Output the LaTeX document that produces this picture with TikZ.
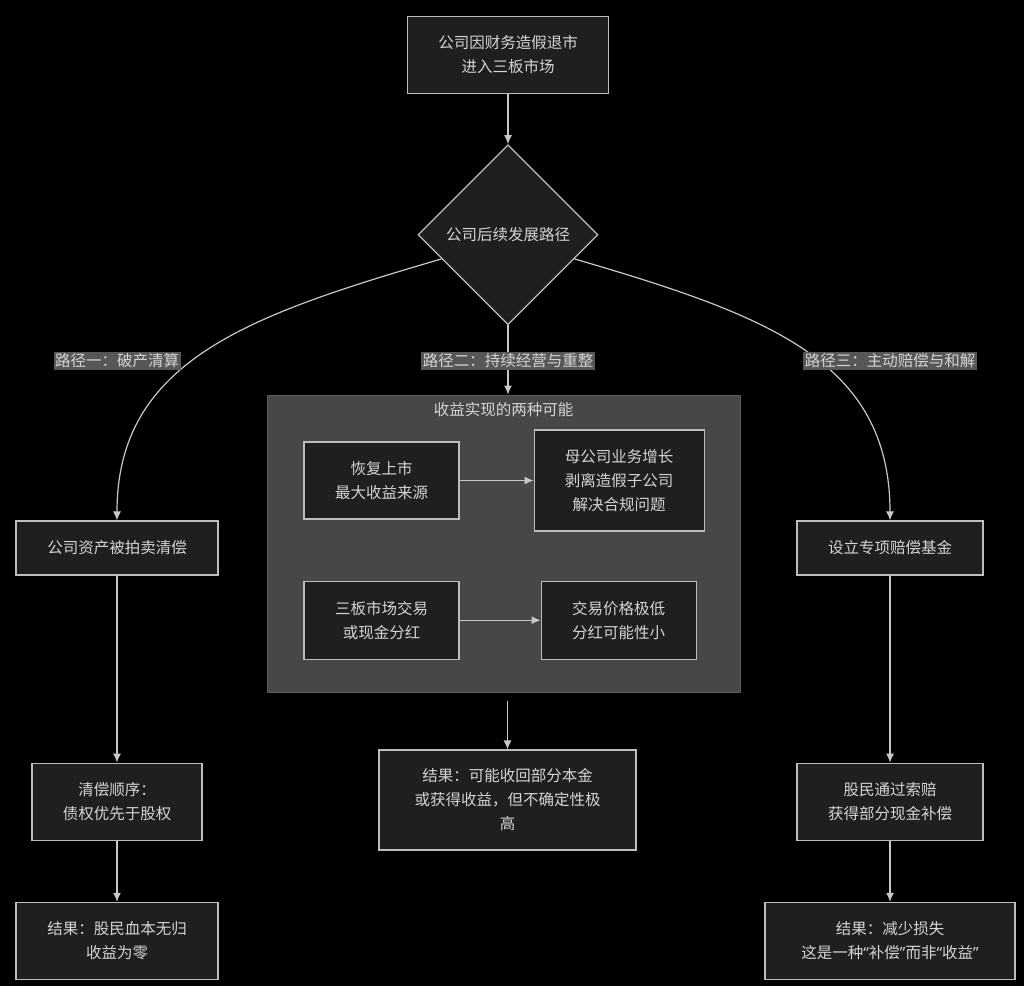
\documentclass[tikz,border=0pt]{standalone}
\usepackage{fontspec}
\setmainfont{Noto Sans CJK SC}
\newfontfamily\quotefont{Noto Sans}
\usepackage{xcolor}
\usepackage{tikz}
\usetikzlibrary{shapes,arrows,arrows.meta,positioning}
\definecolor{nodefill}{HTML}{1F1F1F}
\definecolor{nodeline}{HTML}{BDBDBD}
\definecolor{nodetext}{HTML}{D4D4D4}
\definecolor{edgeline}{HTML}{C8C8C8}
\definecolor{groupfill}{HTML}{474747}
\definecolor{groupline}{HTML}{5C5C5C}
\definecolor{labelfill}{HTML}{575757}
\newcommand{\qmark}[1]{{\quotefont #1}}
\tikzset{>={Latex[length=9pt,width=8pt]}}
\tikzset{main node/.style={rectangle,fill=nodefill,draw=nodeline,line width=1.2pt,text=nodetext,align=center,inner sep=0pt,font=\fontsize{15.5}{24}\selectfont},
         choice node/.style={main node,diamond,minimum width=180pt,minimum height=180pt},
         path label/.style={fill=labelfill,text=nodetext,inner sep=1.5pt,font=\fontsize{15.5}{20}\selectfont},
         group box/.style={rectangle,fill=groupfill,draw=groupline,line width=1pt,inner sep=0pt},
            }

\begin{document}
\begin{tikzpicture}[x=1pt,y=-1pt]

    \fill[black] (0,0) rectangle (1024,986);
    \useasboundingbox (0,0) rectangle (1024,986);

    \node[main node,minimum width=201pt,minimum height=77pt] (1) at (508,55) {公司因财务造假退市\\进入三板市场};
    \node[choice node] (2) [below = 50pt of 1] {公司后续发展路径};

    % path one
    \node[main node,minimum width=202pt,minimum height=54pt] (3) at (117,548) {公司资产被拍卖清偿};
    \node[main node,minimum width=170pt,minimum height=77pt] (4) [below = 187pt of 3] {清偿顺序：\\债权优先于股权};
    \node[main node,minimum width=202pt,minimum height=77pt] (5) [below = 61pt of 4] {结果：股民血本无归\\收益为零};

    % path three
    \node[main node,minimum width=186pt,minimum height=54pt] (6) at (890,548) {设立专项赔偿基金};
    \node[main node,minimum width=186pt,minimum height=77pt] (7) [below = 187pt of 6] {股民通过索赔\\获得部分现金补偿};
    \node[main node,minimum width=250pt,minimum height=77pt] (8) [below = 61pt of 7] {结果：减少损失\\这是一种\qmark{“}补偿\qmark{”}而非\qmark{“}收益\qmark{”}};

    % path two
    \node[group box,minimum width=473pt,minimum height=297pt] (cl) at (503.5,543.5) {};
    \node[text=nodetext,font=\fontsize{15.5}{20}\selectfont,anchor=north] (clt) [below = 4pt of cl.north] {收益实现的两种可能};
    \node[main node,minimum width=155pt,minimum height=77pt] (9) at (381.5,480.5) {恢复上市\\最大收益来源};
    \node[main node,minimum width=170pt,minimum height=101pt] (10) [right = 74pt of 9] {母公司业务增长\\剥离造假子公司\\解决合规问题};
    \node[main node,minimum width=155pt,minimum height=78pt] (11) [below = 61pt of 9] {三板市场交易\\或现金分红};
    \node[main node,minimum width=155pt,minimum height=78pt] (12) [right = 81pt of 11] {交易价格极低\\分红可能性小};
    \node[main node,minimum width=257pt,minimum height=100pt] (13) at (507.5,800) {结果：可能收回部分本金\\或获得收益，但不确定性极\\高};
    \coordinate (c) at ([yshift=-8pt]cl.south -| 13.north);

    \path[line width=1.2pt,color=edgeline]
    (1) edge [->] (2)
    (9) edge [->] (10)
    (11) edge [->] (12)
    (3) edge [->] (4)
    (4) edge [->] (5)
    (6) edge [->] (7)
    (7) edge [->] (8)
    (c) edge [->] (13);

    \draw[line width=1.2pt,->,color=edgeline] (2.south) -- (2.south |- cl.north);
    \draw[line width=1.2pt,->,color=edgeline] (2.200) .. controls (250,315) and (117,360) .. (3.north);
    \draw[line width=1.2pt,->,color=edgeline] (2.340) .. controls (766,315) and (890,360) .. (6.north);

    \node[path label] (l1) at (117,361) {路径一：破产清算};
    \node[path label] (l2) at (508,361) {路径二：持续经营与重整};
    \node[path label] (l3) at (890,361) {路径三：主动赔偿与和解};

\end{tikzpicture}
\end{document}
